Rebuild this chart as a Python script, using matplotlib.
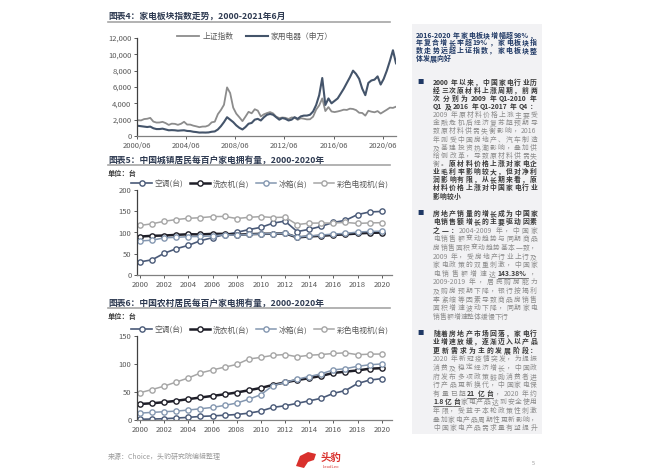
import numpy as np
import pandas as pd
import matplotlib
matplotlib.use('Agg')
import matplotlib.pyplot as plt
from matplotlib.lines import Line2D
from matplotlib.patches import Rectangle, Polygon

plt.rcParams['font.family'] = ['Noto Sans CJK SC', 'DejaVu Sans']
plt.rcParams['axes.unicode_minus'] = False

W, H = 650, 473

# ---- chart 4: index trend, quarterly readings 2000Q2 - 2021Q2
quarters = pd.date_range('2000-06-30', '2021-06-30', freq='QE')
sse = [1930, 1910, 2073,
       2112, 2218, 1766, 1646,
       1654, 1733, 1581, 1357,
       1510, 1487, 1367, 1497,
       1742, 1400, 1396, 1266,
       1181, 1080, 1155, 1161,
       1299, 1672, 1752, 2675,
       3183, 3820, 5950, 5261,
       3472, 2736, 2293, 1820,
       2373, 2959, 2779, 3277,
       3109, 2398, 2655, 2808,
       2928, 2762, 2359, 2199,
       2262, 2225, 2086, 2269,
       2237, 1979, 2175, 2116,
       2033, 2048, 2364, 3234,
       3748, 4600, 3053, 3539,
       3003, 2930, 3005, 3104,
       3223, 3192, 3349, 3307,
       3169, 2847, 2821, 2494,
       3091, 2979, 2905, 3050,
       2750, 2985, 3218, 3473,
       3441, 3591]
appliance = [1250, 1200, 1150,
             1100, 1150, 950, 850,
             850, 900, 800, 700,
             720, 700, 650, 680,
             700, 620, 600, 520,
             480, 420, 430, 420,
             440, 520, 560, 800,
             1200, 1700, 2300, 2000,
             1700, 1300, 1000, 800,
             1100, 1500, 1600, 2000,
             2100, 1900, 2300, 2600,
             2700, 2600, 2300, 2000,
             2200, 2100, 1900, 2000,
             2300, 2100, 2400, 2500,
             2500, 2600, 3000, 3800,
             5000, 7100, 3800, 4600,
             4000, 4300, 4600, 5200,
             5800, 6500, 7200, 8000,
             7600, 7000, 5800, 5000,
             6500, 6800, 6900, 7300,
             6300, 7000, 8000, 9200,
             10500, 8900]
idx_ticks = ['2000-06-01', '2004-06-01', '2008-06-01', '2012-06-01', '2016-06-01', '2020-06-01']
idx_labels = ['2000/06', '2004/06', '2008/06', '2012/06', '2016/06', '2020/06']

# ---- chart 5 / 6: ownership per 100 households
years = list(range(2000, 2021))
urban_ac = [30.8, 35.8, 51.1, 61.8, 69.8, 80.7, 87.8, 95.1, 100.3, 106.8, 112.1,
            122.0, 126.8, 102.2, 107.4, 114.6, 123.7, 128.6, 142.2, 148.3, 149.6]
urban_wash = [90.5, 92.2, 92.9, 94.4, 95.9, 95.5, 96.8, 96.8, 94.7, 96.0, 96.9,
              97.1, 98.0, 88.4, 90.7, 92.3, 94.2, 95.7, 97.7, 99.2, 99.7]
urban_fridge = [80.1, 81.9, 87.4, 88.7, 90.2, 90.7, 91.8, 95.0, 93.6, 95.4, 96.6,
                97.2, 98.5, 89.2, 91.7, 94.0, 96.4, 98.0, 100.9, 102.5, 103.1]
urban_tv = [116.6, 120.5, 126.4, 130.5, 133.4, 134.8, 137.4, 137.8, 132.9, 135.7, 137.4,
            135.2, 136.1, 118.6, 122.0, 122.3, 122.3, 123.8, 121.3, 122.6, 123.0]
rural_ac = [1.3, 1.7, 2.3, 3.5, 4.7, 6.4, 7.3, 8.5, 9.8, 12.2, 16.0,
            22.6, 25.4, 29.8, 34.2, 38.8, 47.6, 52.6, 65.2, 71.3, 73.8]
rural_wash = [28.6, 29.9, 31.8, 34.3, 37.3, 40.2, 43.0, 45.9, 49.1, 53.1, 57.3,
              62.6, 67.2, 71.2, 74.8, 78.8, 84.0, 86.3, 88.5, 91.6, 92.6]
rural_fridge = [12.3, 13.6, 14.8, 15.9, 17.8, 20.1, 22.5, 26.1, 30.2, 37.1, 45.2,
                61.5, 67.3, 72.9, 77.6, 82.6, 89.5, 91.7, 95.9, 98.6, 100.1]
rural_tv = [48.7, 54.4, 60.5, 67.8, 75.1, 84.0, 89.4, 94.4, 99.2, 108.9, 111.8,
            115.5, 116.9, 112.9, 115.6, 116.9, 118.8, 120.0, 116.6, 117.6, 117.8]
series_names = ['空调(台)', '洗衣机(台)', '冰箱(台)', '彩色电视机(台)']


def box(x0, y0, x1, y1):
    return [x0 / W, 1 - y1 / H, (x1 - x0) / W, (y1 - y0) / H]


def ptext(x, y, s, **kw):
    kw.setdefault('va', 'center')
    return fig.text(x / W, 1 - y / H, s, **kw)


def hline(x0, x1, y, **kw):
    fig.add_artist(Line2D([x0 / W, x1 / W], [1 - y / H, 1 - y / H], **kw))


fig = plt.figure(figsize=(6.5, 4.73), dpi=100)
fig.patch.set_facecolor('white')

title_col = '#2f3b52'
tick_col = '#595959'

# chart titles
ptext(108, 16, '图表4：家电板块指数走势，2000-2021年6月', fontsize=6.3, color=title_col, weight='bold')
hline(108, 390, 22, color='#a6a6a6', lw=1.2)
ptext(108, 160, '图表5：中国城镇居民每百户家电拥有量，2000-2020年', fontsize=6.3, color=title_col, weight='bold')
hline(108, 390, 165, color='#a6a6a6', lw=1.2)
ptext(108, 173, '单位：台', fontsize=5.2, color='#404040', weight='bold')
ptext(108, 303, '图表6：中国农村居民每百户家电拥有量，2000-2020年', fontsize=6.3, color=title_col, weight='bold')
hline(108, 390, 308, color='#a6a6a6', lw=1.2)
ptext(108, 316, '单位：台', fontsize=5.2, color='#404040', weight='bold')

# ---- chart 4
ax4 = fig.add_axes(box(137, 38, 396, 136))
ax4.plot(quarters, sse, color='#8c8c8c', lw=1.3, label='上证指数')
ax4.plot(quarters, appliance, color='#44546a', lw=1.5, label='家用电器（申万）')
ax4.set_ylim(0, 12000)
ax4.set_xlim(pd.Timestamp('2000-06-01'), pd.Timestamp('2021-06-30'))
ax4.set_yticks(range(0, 12001, 2000))
ax4.set_yticklabels([f'{v:,}' for v in range(0, 12001, 2000)])
ax4.set_xticks(pd.to_datetime(idx_ticks))
ax4.set_xticklabels(idx_labels)
ax4.legend(loc='center', bbox_to_anchor=(255 / W, 1 - 37 / H), bbox_transform=fig.transFigure,
           ncol=2, frameon=False, fontsize=5.6, handlelength=2.8, columnspacing=1.6,
           handletextpad=0.4, labelcolor='#595959')

# ---- chart 5 and 6
styles = [dict(color='#4a5a78', lw=1.2),
          dict(color='#1e1e28', lw=1.8),
          dict(color='#8497b0', lw=1.1),
          dict(color='#a6a6a6', lw=1.1)]


def household(ax, data, ymax, step, legend_y):
    for vals, name, sty in zip(data, series_names, styles):
        ax.plot(years, vals, marker='o', ms=3.8, mfc='white', mec=sty['color'],
                mew=1.0, label=name, **sty)
    ax.set_ylim(0, ymax)
    ax.set_yticks(range(0, ymax + 1, step))
    ax.set_xlim(1999.75, 2020.85)
    ax.set_xticks(range(2000, 2021, 2))
    ax.legend(loc='center', bbox_to_anchor=(260 / W, 1 - legend_y / H), bbox_transform=fig.transFigure,
              ncol=4, frameon=False, fontsize=5.6, handlelength=2.6, columnspacing=0.9,
              handletextpad=0.3, labelcolor='#595959')


ax5 = fig.add_axes(box(137, 190, 392, 275))
household(ax5, [urban_ac, urban_wash, urban_fridge, urban_tv], 200, 50, 184)
ax6 = fig.add_axes(box(137, 336, 392, 420))
household(ax6, [rural_ac, rural_wash, rural_fridge, rural_tv], 150, 50, 330)

for ax in (ax4, ax5, ax6):
    for side in ('top', 'right'):
        ax.spines[side].set_visible(False)
    ax.spines['left'].set_color('#404040')
    ax.spines['bottom'].set_color('#808080')
    ax.spines['left'].set_linewidth(0.9)
    ax.spines['bottom'].set_linewidth(0.9)
    ax.tick_params(labelsize=5.5, colors='#404040', labelcolor=tick_col, length=2, width=0.6, pad=2)
    ax.set_facecolor('none')

# ---- right panel
fig.add_artist(Rectangle((412 / W, 1 - 434 / H), 130 / W, 410 / H, transform=fig.transFigure,
                         facecolor='#f2f2f4', edgecolor='none', zorder=0))

fs = 4.9
st = {
    'h': dict(fontsize=5.0, color='#1f3864', weight='bold'),
    'd': dict(fontsize=fs, color='#3a3a3a', weight='bold'),
    'g': dict(fontsize=fs, color='#8c8c8c'),
    'u': dict(fontsize=fs, color='#3a3a3a', weight='bold', style='italic'),
}

heading = ['2016-2020年家电板块增幅超98%，',
           '年复合增长率超19%，家电板块指',
           '数走势远超上证指数，家电板块整',
           '体发展向好']

bullets = [
    (82, 8.14, [
        [('2000年以来，中国家电行业历', 'd')],
        [('经三次原材料上涨周期，前两', 'd')],
        [('次分别为2009年Q1-2010年', 'd')],
        [('Q1及2016年Q1-2017年Q4：', 'd')],
        [('2009年原材料价格上涨主要受', 'g')],
        [('金融危机后经济复苏超预期导', 'g')],
        [('致原材料供需失衡影响，2016', 'g')],
        [('年则受中国房地产、汽车制造', 'g')],
        [('及基建投资热潮影响，叠加供', 'g')],
        [('给侧改革，导致原材料供需失', 'g')],
        [('衡。', 'g'), ('原材料价格上涨对家电企', 'd')],
        [('业毛利率影响较大，但对净利', 'd')],
        [('润影响有限，从长期来看，原', 'd')],
        [('材料价格上涨对中国家电行业', 'd')],
        [('影响较小', 'd')],
    ]),
    (213, 8.6, [
        [('房地产销量的增长成为中国家', 'd')],
        [('电销售额增长的主要驱动因素', 'd')],
        [('之一：', 'd'), ('2004-2009年，中国家', 'g')],
        [('电销售额变动趋势与同期商品', 'g')],
        [('房销售面积变动趋势基本一致，', 'g')],
        [('2009年，受房地产行业上行及', 'g')],
        [('家电政策的双重刺激，中国家', 'g')],
        [('电销售额增速达', 'g'), ('143.38%', 'u'), ('，', 'g')],
        [('2009-2019年，居民购房能力', 'g')],
        [('及购房预期下降，银行按揭利', 'g')],
        [('率紧缩等因素导致商品房销售', 'g')],
        [('面积增速波动下降，同期家电', 'g')],
        [('销售额增速整体缓慢下行', 'g')],
    ]),
    (333, 8.6, [
        [('随着房地产市场回落，家电行', 'd')],
        [('业增速放缓，逐渐迈入以产品', 'd')],
        [('更新需求为主的发展阶段：', 'd')],
        [('2020年新冠疫情突发，为提振', 'g')],
        [('消费及稳定经济增长，中国政', 'g')],
        [('府发布多项政策鼓励消费者进', 'g')],
        [('行产品更新换代，中国家电保', 'g')],
        [('有量已超', 'g'), ('21亿台', 'u'), ('，2020年约', 'g')],
        [('1.8亿台', 'u'), ('家电产品达到安全使用', 'g')],
        [('年限，受益于本轮政策性刺激', 'g')],
        [('叠加家电产品周期性更新影响，', 'g')],
        [('中国家电产品需求量有望提升', 'g')],
    ]),
]

renderer = fig.canvas.get_renderer()


def tokens(segs):
    # full-width chars one by one, runs of ascii kept together
    out = []
    for s, key in segs:
        run = ''
        for ch in s:
            if ord(ch) < 0x2000:
                run += ch
            else:
                if run:
                    out.append((run, key, False))
                    run = ''
                out.append((ch, key, True))
        if run:
            out.append((run, key, False))
    return out


def tok_w(s, key, wide):
    em = st[key]['fontsize'] * 100 / 72
    if wide:
        return em
    t = fig.text(0, 0, s, **st[key])
    w = t.get_window_extent(renderer).width
    t.remove()
    return w + 0.15 * em


def seg_line(x, y, segs, right=None):
    toks = tokens(segs)
    widths = [tok_w(s, k, wd) for s, k, wd in toks]
    extra = 0.0
    if right is not None and len(toks) > 1:
        extra = max(0.0, (right - x - sum(widths)) / (len(toks) - 1))
    base = round(y + 2.6)
    for (s, key, wide), w in zip(toks, widths):
        ptext(x, base, s, va='baseline', **st[key])
        if key == 'u':
            hline(x, x + w, base + 1.5, color='#3a3a3a', lw=0.5)
        x += w + extra


for i, line in enumerate(heading):
    seg_line(416, 35 + i * 7.7, [(line, 'h')], right=None if i == len(heading) - 1 else 537)

short_last = [True, True, False]
for (y0, gap, lines), last_short in zip(bullets, short_last):
    ptext(421, round(y0 + 2.2), '■', fontsize=4.5, color='#1f3864', ha='center', va='baseline')
    for i, segs in enumerate(lines):
        is_last = i == len(lines) - 1
        seg_line(433, y0 + i * gap, segs, right=None if (is_last and last_short) else 537)

# ---- footer
ptext(108, 457, '来源：Choice，头豹研究院编辑整理', fontsize=5, color='#9a9a9a')
fig.add_artist(Polygon([[296 / W, 1 - 466 / H], [300 / W, 1 - 456 / H], [308 / W, 1 - 452 / H],
                        [316 / W, 1 - 454 / H], [314 / W, 1 - 460 / H], [308 / W, 1 - 462 / H],
                        [304 / W, 1 - 468 / H]],
                       closed=True, transform=fig.transFigure, facecolor='#d9302c', edgecolor='none'))
ptext(331, 458, '头豹', fontsize=7.5, color='#d9302c', weight='bold', ha='center')
ptext(331, 467, 'LeadLeo', fontsize=3, color='#d9302c', ha='center')
ptext(533, 463, '5', fontsize=4, color='#9a9a9a', ha='center')

fig.savefig('out.png', dpi=100)
